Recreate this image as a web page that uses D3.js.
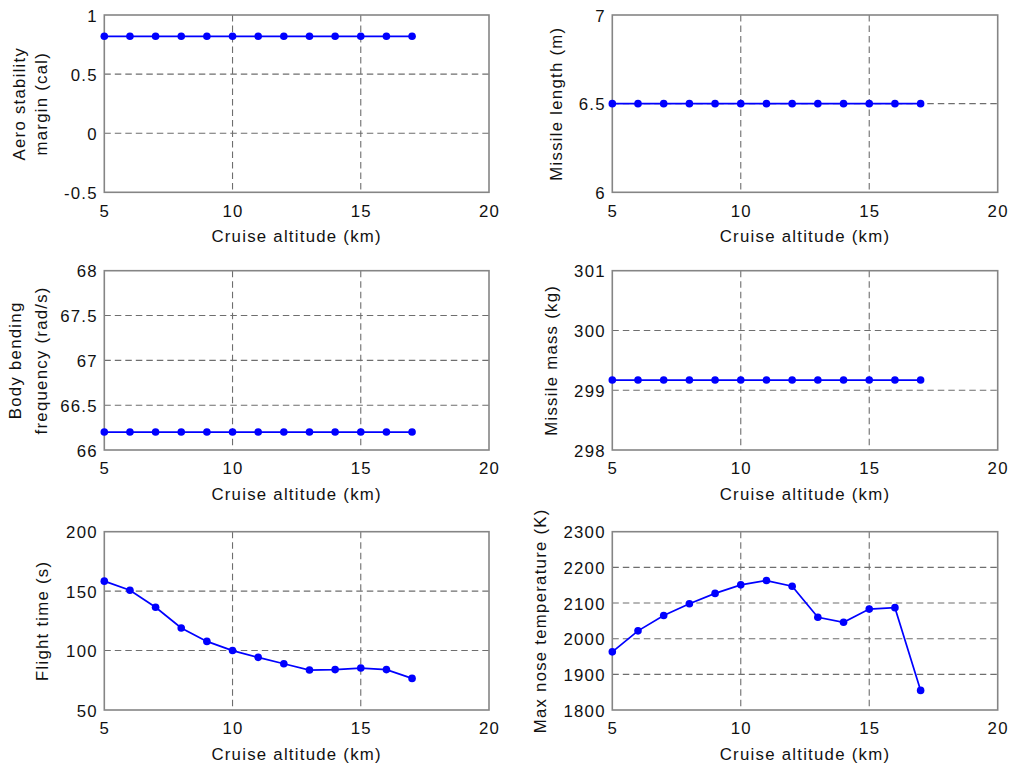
<!DOCTYPE html>
<html>
<head>
<meta charset="utf-8">
<script src="https://cdn.jsdelivr.net/npm/d3@7"></script>
<style>
  html, body { margin: 0; padding: 0; background: #fff; }
  svg { display: block; }
  text { font-family: "Liberation Sans", Arial, sans-serif; fill: #111; }
</style>
</head>
<body>
<svg id="chart" width="1011" height="766"></svg>
<script>
// Cruise altitude sweep (km)
const altitude = [5, 6, 7, 8, 9, 10, 11, 12, 13, 14, 15, 16, 17];

// Design outputs at each cruise altitude
const stabilityMargin = [0.82, 0.82, 0.82, 0.82, 0.82, 0.82, 0.82, 0.82, 0.82, 0.82, 0.82, 0.82, 0.82];
const missileLength   = [6.5, 6.5, 6.5, 6.5, 6.5, 6.5, 6.5, 6.5, 6.5, 6.5, 6.5, 6.5, 6.5];
const bendingFreq     = [66.2, 66.2, 66.2, 66.2, 66.2, 66.2, 66.2, 66.2, 66.2, 66.2, 66.2, 66.2, 66.2];
const missileMass     = [299.17, 299.17, 299.17, 299.17, 299.17, 299.17, 299.17, 299.17, 299.17, 299.17, 299.17, 299.17, 299.17];
const flightTime      = [158.4, 150.8, 136.4, 119, 107.7, 100, 94.3, 88.9, 83.6, 84, 85.3, 84, 76.6];
const noseTemp        = [1963, 2022, 2065, 2098, 2127, 2151, 2163, 2147, 2060, 2046, 2083, 2087, 1855];

// Axis ticks
const xTicks = [5, 10, 15, 20];
const stabilityTicks = [-0.5, 0, 0.5, 1];
const lengthTicks = [6, 6.5, 7];
const freqTicks = [66, 66.5, 67, 67.5, 68];
const massTicks = [298, 299, 300, 301];
const timeTicks = [50, 100, 150, 200];
const tempTicks = [1800, 1900, 2000, 2100, 2200, 2300];

const xLabel = "Cruise altitude (km)";

// Panel layout: plot boxes and y-label baselines (relative to plot left edge)
const cols = [[104.3, 489], [612.3, 997.7]];
const rows = [[15, 192.3], [270.7, 450], [531.7, 710]];

const panels = [
  { col: 0, row: 0, values: stabilityMargin, ticks: stabilityTicks, label: ["Aero stability", "margin (cal)"], labelX: [-79, -57.5] },
  { col: 1, row: 0, values: missileLength, ticks: lengthTicks, label: ["Missile length (m)"], labelX: [-50] },
  { col: 0, row: 1, values: bendingFreq, ticks: freqTicks, label: ["Body bending", "frequency (rad/s)"], labelX: [-83.5, -57.5] },
  { col: 1, row: 1, values: missileMass, ticks: massTicks, label: ["Missile mass (kg)"], labelX: [-55] },
  { col: 0, row: 2, values: flightTime, ticks: timeTicks, label: ["Flight time (s)"], labelX: [-56] },
  { col: 1, row: 2, values: noseTemp, ticks: tempTicks, label: ["Max nose temperature (K)"], labelX: [-66] }
];

const FONT = "16.8px";
const SPACING = "1.25px";
const GRID = "#6e6e6e";
const BOX = "#858585";
const BLUE = "#0000ff";

const svg = d3.select("#chart");

panels.forEach(p => {
  const [x0, x1] = cols[p.col];
  const [y0, y1] = rows[p.row];
  const x = d3.scaleLinear().domain([xTicks[0], xTicks[xTicks.length - 1]]).range([x0, x1]);
  const y = d3.scaleLinear().domain([p.ticks[0], p.ticks[p.ticks.length - 1]]).range([y1, y0]);

  const g = svg.append("g");

  // Dashed grid
  const grid = g.append("g").attr("stroke", GRID).attr("stroke-width", 1.1).attr("stroke-dasharray", "6.5,4").attr("fill", "none");
  grid.selectAll("line.v").data(xTicks.slice(1, -1)).join("line")
    .attr("x1", d => x(d)).attr("x2", d => x(d)).attr("y1", y0).attr("y2", y1);
  grid.selectAll("line.h").data(p.ticks.slice(1, -1)).join("line")
    .attr("class", "h")
    .attr("y1", d => y(d)).attr("y2", d => y(d)).attr("x1", x0).attr("x2", x1);

  // Axes via d3 axis generators (labels only, no tick marks)
  const xAxis = d3.axisBottom(x).tickValues(xTicks).tickSize(0).tickPadding(0).tickFormat(d3.format("d"));
  const xg = g.append("g").attr("transform", `translate(0,${y1})`).call(xAxis);
  xg.select(".domain").remove();
  xg.selectAll("text").attr("y", 24.4).attr("dy", null)
    .style("font-size", FONT).style("letter-spacing", SPACING).attr("fill", "#111");

  const yAxis = d3.axisLeft(y).tickValues(p.ticks).tickSize(0).tickPadding(0).tickFormat(d => String(d));
  const yg = g.append("g").attr("transform", `translate(${x0},0)`).call(yAxis);
  yg.select(".domain").remove();
  yg.selectAll("text").attr("x", -6.5).attr("dy", "0.36em")
    .style("font-size", FONT).style("letter-spacing", SPACING).attr("fill", "#111");

  // Axis box
  g.append("rect").attr("x", x0).attr("y", y0).attr("width", x1 - x0).attr("height", y1 - y0)
    .attr("fill", "none").attr("stroke", BOX).attr("stroke-width", 1.6);

  // Data line and markers
  const pts = altitude.map((a, i) => [a, p.values[i]]);
  g.append("path").datum(pts)
    .attr("fill", "none").attr("stroke", BLUE).attr("stroke-width", 1.7)
    .attr("d", d3.line().x(d => x(d[0])).y(d => y(d[1])));
  g.selectAll("circle").data(pts).join("circle")
    .attr("cx", d => x(d[0])).attr("cy", d => y(d[1])).attr("r", 3.8).attr("fill", BLUE);

  // X label
  g.append("text").attr("x", (x0 + x1) / 2).attr("y", y1 + 50).attr("text-anchor", "middle")
    .style("font-size", FONT).style("letter-spacing", SPACING).text(xLabel);

  // Y label (one or two lines, rotated)
  const cy = (y0 + y1) / 2;
  p.label.forEach((line, i) => {
    const lx = x0 + p.labelX[i];
    g.append("text").attr("transform", `translate(${lx},${cy}) rotate(-90)`)
      .attr("text-anchor", "middle")
      .style("font-size", FONT).style("letter-spacing", SPACING).text(line);
  });
});
</script>
</body>
</html>
